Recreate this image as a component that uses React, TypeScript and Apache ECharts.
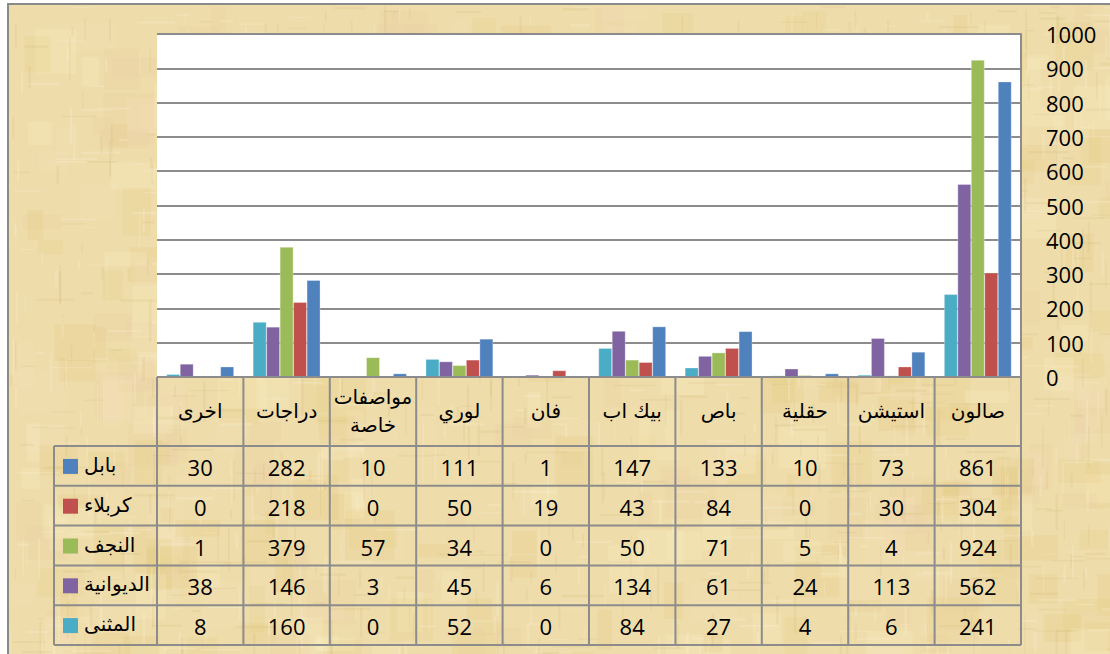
import React, { useEffect, useRef } from "react";
import * as echarts from "echarts";

// categories in visual order (left to right)
const categories = ["اخرى", "دراجات", "مواصفات\nخاصة", "لوري", "فان", "بيك اب", "باص", "حقلية", "استيشن", "صالون"];
const babil = [30, 282, 10, 111, 1, 147, 133, 10, 73, 861];
const karbala = [0, 218, 0, 50, 19, 43, 84, 0, 30, 304];
const najaf = [1, 379, 57, 34, 0, 50, 71, 5, 4, 924];
const diwaniya = [38, 146, 3, 45, 6, 134, 61, 24, 113, 562];
const muthanna = [8, 160, 0, 52, 0, 84, 27, 4, 6, 241];
const yTicks = [0, 100, 200, 300, 400, 500, 600, 700, 800, 900, 1000];

// table rows (top to bottom)
const tableRows = [
  { name: "بابل", data: babil, color: "#4f81bd" },
  { name: "كربلاء", data: karbala, color: "#c0504d" },
  { name: "النجف", data: najaf, color: "#9bbb59" },
  { name: "الديوانية", data: diwaniya, color: "#8064a2" },
  { name: "المثنى", data: muthanna, color: "#4bacc6" },
];
// bar order inside each group, left to right
const barOrder = [4, 3, 2, 1, 0];

const W = 1110;
const H = 654;
const PL = 157;
const PR = 1021;
const PT = 34;
const PB = 377;
const LEGL = 54;
const HEADB = 446;
const ROWH = 39.8;
const LINE = "#8c8c8c";
const PARCH = "#eedcaa";
const NUMFONT = "'Open Sans', 'Liberation Sans', sans-serif";
const ARFONT = "'DejaVu Sans', sans-serif";

// decorative parchment texture (deterministic)
function makeTexture(): string {
  const c = document.createElement("canvas");
  c.width = W;
  c.height = H;
  const g = c.getContext("2d");
  if (!g) return "";
  g.fillStyle = PARCH;
  g.fillRect(0, 0, W, H);
  let s = 12345;
  const rnd = () => {
    s = (s * 1103515245 + 12345) & 0x7fffffff;
    return s / 0x7fffffff;
  };
  const tints = ["rgba(250,238,200,0.25)", "rgba(220,195,110,0.18)", "rgba(232,205,130,0.2)", "rgba(245,228,190,0.22)", "rgba(232,200,160,0.15)"];
  for (let i = 0; i < 500; i++) {
    g.fillStyle = tints[Math.floor(rnd() * tints.length)];
    const x = rnd() * W;
    const y = rnd() * H;
    g.fillRect(x, y, 12 + rnd() * 40, 12 + rnd() * 40);
  }
  for (let i = 0; i < 1400; i++) {
    g.fillStyle = rnd() < 0.5 ? "rgba(195,170,100,0.14)" : "rgba(255,248,225,0.22)";
    const x = rnd() * W;
    const y = rnd() * H;
    if (rnd() < 0.55) g.fillRect(x, y, 1 + rnd() * 1.5, 8 + rnd() * 35);
    else g.fillRect(x, y, 8 + rnd() * 35, 1 + rnd() * 1.5);
  }
  return c.toDataURL();
}

export default function App() {
  const ref = useRef<HTMLDivElement>(null);
  useEffect(() => {
    if (!ref.current) return;
    const chart = echarts.init(ref.current, undefined, { renderer: "svg" });
    const colW = (PR - PL) / categories.length;
    const graphics: any[] = [];
    const tex = makeTexture();
    graphics.push({
      type: "rect",
      z: -11,
      shape: { x: 8, y: 4, width: W + 20, height: H + 20 },
      style: { fill: PARCH, stroke: "#8a8a8a", lineWidth: 2 },
    });
    if (tex) {
      graphics.push({
        type: "image",
        z: -10,
        x: 9,
        y: 5,
        style: { image: tex, width: W, height: H },
      });
    }
    const tableBottom = HEADB + ROWH * tableRows.length;
    for (let k = 0; k <= categories.length; k++) {
      const x = PL + k * colW;
      graphics.push({
        type: "line",
        z: 10,
        shape: { x1: x, y1: PB, x2: x, y2: tableBottom },
        style: { stroke: LINE, lineWidth: 2 },
      });
    }
    graphics.push({
      type: "line",
      z: 10,
      shape: { x1: LEGL, y1: HEADB, x2: LEGL, y2: tableBottom },
      style: { stroke: LINE, lineWidth: 2 },
    });
    graphics.push({
      type: "line",
      z: 10,
      shape: { x1: PL, y1: PB, x2: PR, y2: PB },
      style: { stroke: LINE, lineWidth: 2 },
    });
    for (let r = 0; r <= tableRows.length; r++) {
      const y = HEADB + r * ROWH;
      graphics.push({
        type: "line",
        z: 10,
        shape: { x1: LEGL, y1: y, x2: PR, y2: y },
        style: { stroke: LINE, lineWidth: 2 },
      });
    }
    categories.forEach((c, i) => {
      graphics.push({
        type: "text",
        z: 11,
        x: PL + (i + 0.5) * colW,
        y: (PB + HEADB) / 2 - 1,
        style: {
          text: c,
          font: `20px ${ARFONT}`,
          fill: "#000",
          align: "center",
          verticalAlign: "middle",
          lineHeight: 28,
        },
      });
    });
    tableRows.forEach((row, r) => {
      const cy = HEADB + (r + 0.5) * ROWH;
      graphics.push({
        type: "rect",
        z: 11,
        shape: { x: 63, y: cy - 7, width: 15, height: 15 },
        style: { fill: row.color },
      });
      graphics.push({
        type: "text",
        z: 11,
        x: 84,
        y: cy - 1,
        style: {
          text: row.name,
          font: `20px ${ARFONT}`,
          fill: "#000",
          align: "left",
          verticalAlign: "middle",
        },
      });
      row.data.forEach((v, i) => {
        graphics.push({
          type: "text",
          z: 11,
          x: PL + (i + 0.5) * colW,
          y: cy + 1,
          style: {
            text: String(v),
            font: `22px ${NUMFONT}`,
            fill: "#000",
            align: "center",
            verticalAlign: "middle",
          },
        });
      });
    });

    chart.setOption({
      animation: false,
      backgroundColor: "#ffffff",
      grid: {
        left: PL,
        right: W - PR,
        top: PT,
        bottom: H - PB,
        show: true,
        backgroundColor: "#ffffff",
        borderWidth: 0,
      },
      xAxis: {
        type: "category",
        data: categories,
        axisLine: { show: false },
        axisTick: { show: false },
        axisLabel: { show: false },
      },
      yAxis: {
        type: "value",
        position: "right",
        min: 0,
        max: 1000,
        interval: 100,
        axisLine: { show: true, lineStyle: { color: LINE, width: 2 } },
        axisTick: { show: false },
        axisLabel: {
          margin: 25,
          fontSize: 22,
          fontFamily: NUMFONT,
          color: "#000",
          formatter: (v: number) => (yTicks.includes(v) ? String(v) : ""),
        },
        splitLine: { show: true, lineStyle: { color: LINE, width: 2 } },
      },
      series: barOrder.map((idx) => ({
        type: "bar",
        name: tableRows[idx].name,
        data: tableRows[idx].data,
        barGap: "0%",
        barCategoryGap: "22%",
        itemStyle: { color: tableRows[idx].color, borderColor: "rgba(255,255,255,0.6)", borderWidth: 0.5 },
      })),
      graphic: graphics,
    });
    return () => chart.dispose();
  }, []);
  return (
    <div
      ref={ref}
      style={{ position: "absolute", left: 0, top: 0, width: W, height: H }}
    />
  );
}
